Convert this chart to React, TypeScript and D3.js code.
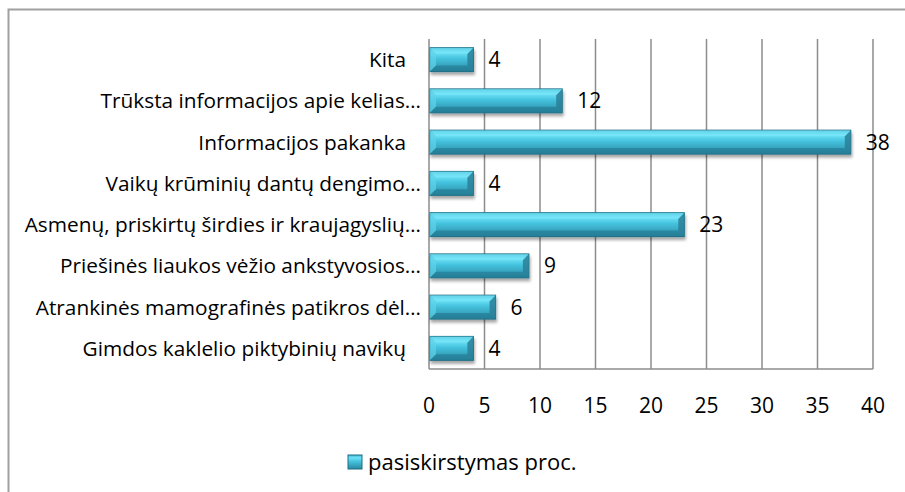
import React from "react";
import * as d3 from "d3";

const categories = [
  "Kita",
  "Trūksta informacijos apie kelias…",
  "Informacijos pakanka",
  "Vaikų krūminių dantų dengimo…",
  "Asmenų, priskirtų širdies ir kraujagyslių…",
  "Priešinės liaukos vėžio ankstyvosios…",
  "Atrankinės mamografinės patikros dėl…",
  "Gimdos kaklelio piktybinių navikų",
];
const values = [4, 12, 38, 4, 23, 9, 6, 4];
const ticks = [0, 5, 10, 15, 20, 25, 30, 35, 40];
const seriesName = "pasiskirstymas proc.";

const W = 905;
const H = 492;
const FONT = "'Open Sans', Lato, sans-serif";

export default function App() {
  const left = 429;
  const right = 873;
  const top = 39;
  const bottom = 369;
  const x = d3.scaleLinear().domain([0, 40]).range([left, right]);
  const y = d3.scaleBand<string>().domain(categories).range([top, bottom]).paddingInner(0.42).paddingOuter(0.21);
  const bh = y.bandwidth();
  const bev = 6;

  return (
    <svg width={W} height={H} style={{ position: "absolute", left: 0, top: 0, fontFamily: FONT }}>
      <defs>
        <linearGradient id="barg" x1="0" y1="0" x2="0" y2="1">
          <stop offset="0" stopColor="#3fb6d2" />
          <stop offset="0.2" stopColor="#6fe2f6" />
          <stop offset="0.45" stopColor="#45c3df" />
          <stop offset="1" stopColor="#2a8aa3" />
        </linearGradient>
        <filter id="sh" x="-10%" y="-30%" width="130%" height="180%">
          <feDropShadow dx="1" dy="3" stdDeviation="1.6" floodColor="#000" floodOpacity="0.35" />
        </filter>
      </defs>
      <rect x={0} y={0} width={W} height={H} fill="#fff" />
      <path d={`M8.5,${H} L8.5,9.5 L${W},9.5`} fill="none" stroke="#a0a0a0" strokeWidth={2} />

      {ticks.map((t) => (
        <line key={t} x1={x(t)} x2={x(t)} y1={top} y2={bottom} stroke="#8c8c8c" strokeWidth={1.5} />
      ))}
      <line x1={left} x2={right} y1={bottom} y2={bottom} stroke="#8c8c8c" strokeWidth={1.5} />

      {categories.map((c, i) => {
        const y0 = y(c)!;
        const x0 = x(0) + 1;
        const x1 = x(values[i]);
        const w = x1 - x0;
        const ell = c.endsWith("…");
        return (
          <g key={c}>
            <rect x={x0} y={y0} width={w} height={bh} fill="url(#barg)" stroke="#1e6e83" strokeWidth={1} filter="url(#sh)" />
            <polygon
              points={`${x1},${y0} ${x1},${y0 + bh} ${x1 - bev},${y0 + bh - bev} ${x1 - bev},${y0 + bev}`}
              fill="#2a7f96"
              opacity={0.85}
            />
            <polygon
              points={`${x0},${y0} ${x0},${y0 + bh} ${x0 + bev},${y0 + bh - bev} ${x0 + bev},${y0 + bev}`}
              fill="#5fd3ea"
              opacity={0.7}
            />
            <polygon
              points={`${x0},${y0} ${x1},${y0} ${x1 - bev},${y0 + bev} ${x0 + bev},${y0 + bev}`}
              fill="#7ce8f9"
              opacity={0.55}
            />
            <polygon
              points={`${x0},${y0 + bh} ${x1},${y0 + bh} ${x1 - bev},${y0 + bh - bev} ${x0 + bev},${y0 + bh - bev}`}
              fill="#217790"
              opacity={0.6}
            />
            <text x={x1 + 15} y={y0 + bh / 2} dy="0.36em" fontSize={21} fill="#000">
              {values[i]}
            </text>
            <text x={ell ? left - 8 : left - 23} y={y0 + bh / 2} dy="0.36em" fontSize={20.8} textAnchor="end" fill="#000">
              {c}
            </text>
          </g>
        );
      })}

      {ticks.map((t) => (
        <text key={t} x={x(t)} y={405} dy="0.36em" fontSize={21} textAnchor="middle" fill="#000">
          {t}
        </text>
      ))}

      <g>
        <rect x={348} y={455} width={14} height={14} fill="url(#barg)" stroke="#1e6e83" strokeWidth={1} />
        <text x={368} y={462} dy="0.36em" fontSize={22} fill="#000">
          {seriesName}
        </text>
      </g>
    </svg>
  );
}
